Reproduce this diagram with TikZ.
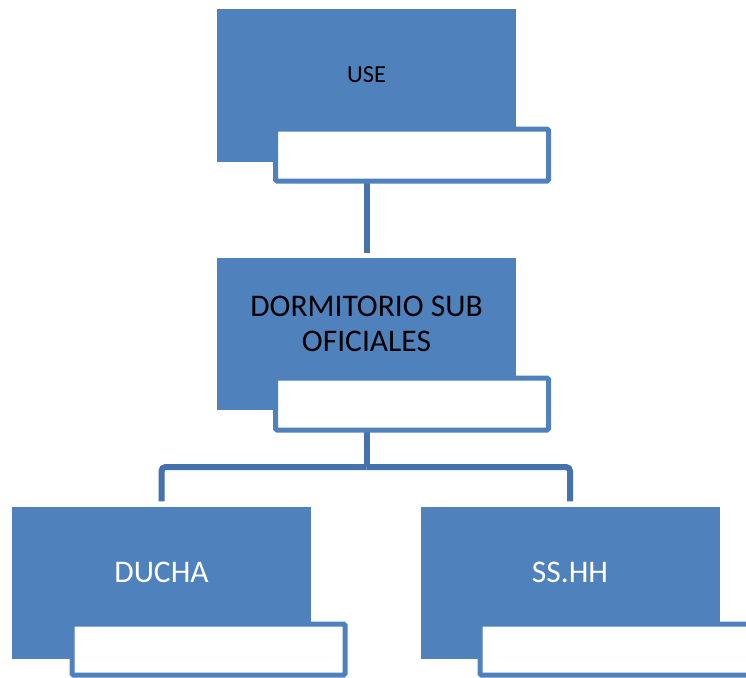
\documentclass[tikz,border=0pt]{standalone}
\usepackage{fontspec}
\setmainfont{Carlito}
\definecolor{boxblue}{RGB}{79,129,189}
\definecolor{linkblue}{RGB}{68,114,173}
\begin{document}
\begin{tikzpicture}[x=1pt,y=-1pt,
  unit/.style={fill=boxblue, inner sep=0pt, minimum width=299pt, minimum height=152pt},
  tag/.style={draw=boxblue, fill=white, line width=5pt, rounded corners=1.5pt, inner sep=0pt, minimum width=273pt, minimum height=52pt},
  caption/.style={align=center, font=\fontsize{31.5}{35}\selectfont},
  link/.style={draw=linkblue, line width=6pt, rounded corners=4pt}]
\useasboundingbox (0,0) rectangle (746,677);
\clip (0,0) rectangle (746,677);
% units
\node[unit] (use) at (366.5,85.5) {};
\node[unit] (dorm) at (366.5,334) {};
\node[unit] (ducha) at (161.5,582.5) {};
\node[unit] (sshh) at (570,582.5) {};
\node[font=\fontsize{24.5}{29}\selectfont] (usetext) at ([yshift=10.5pt]use.center) {USE};
\node[caption] (dormtext) at ([yshift=10.5pt]dorm.center) {DORMITORIO SUB\\OFICIALES};
\node[caption, text=white] (duchatext) at ([yshift=10.5pt]ducha.center) {DUCHA};
\node[caption, text=white] (sshhtext) at ([yshift=10.5pt]sshh.center) {SS.HH};
% connectors
\coordinate (fork) at (366.5,467);
\draw[link, shorten >=5pt] (use.center |- 0,183) -- (dorm.north);
\draw[link] (dorm.center |- 0,432) -- (fork);
\draw[link, shorten >=5pt] (fork) -| (ducha.north);
\draw[link, shorten >=5pt] (fork) -| (sshh.north);
% white tags
\node[tag] (usetag) at (412,155) {};
\node[tag] (dormtag) at (412,404) {};
\node[tag, minimum height=51pt] (duchatag) at (208.5,649.5) {};
\node[tag, minimum height=51pt] (sshhtag) at (616.5,649.5) {};
\end{tikzpicture}
\end{document}
